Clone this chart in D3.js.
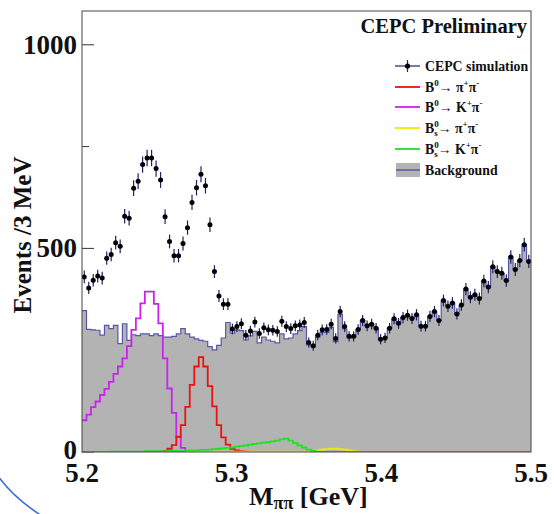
<!DOCTYPE html>
<html><head><meta charset="utf-8">
<script src="https://cdn.jsdelivr.net/npm/d3@7"></script>
<style>body{margin:0;background:#fff} svg{display:block}</style>
</head><body>
<svg id="c" width="554" height="514"></svg>
<script>
// ---- data (Events / 3 MeV, 100 bins from 5.2 to 5.5 GeV) ----
const massRange = [5.2, 5.5];
const nBins = 100;
const dataCounts = [
 430,403,422,432,427,476,485,514,505,579,
 574,648,665,706,722,722,696,668,578,517,
 482,482,512,551,613,649,682,654,558,443,
 383,363,363,302,308,315,287,297,319,291,
 305,300,299,296,321,308,303,310,312,318,
 269,261,287,300,301,314,279,345,308,284,
 284,301,323,310,314,304,277,280,304,327,
 316,330,336,328,337,309,309,333,345,323,
 372,358,366,339,361,400,380,386,377,420,
 405,455,443,439,421,479,448,470,509,468];
const background = [
 347,301,300,299,287,311,303,311,266,315,
 274,288,286,290,290,286,290,286,282,282,
 284,290,303,290,282,278,274,272,259,251,
 262,280,318,292,300,298,275,285,296,268,
 282,275,272,268,290,278,280,290,298,308,
 263,258,282,294,294,306,271,338,302,280,
 282,300,323,310,314,304,277,280,304,327,
 316,330,336,328,337,309,309,333,345,323,
 372,358,366,339,361,400,380,386,377,420,
 405,455,443,439,421,479,448,470,509,468];
const b0PiPi = [
 0,0,0,0,0,0,0,0,0,0, 0,0,0,0,0,0,0,1,3,8,
 17,37,66,111,165,210,233,210,162,112, 66,36,18,8,4,2,1,0,0,0,
 0,0,0,0,0,0,0,0,0,0, 0,0,0,0,0,0,0,0,0,0,
 0,0,0,0,0,0,0,0,0,0, 0,0,0,0,0,0,0,0,0,0,
 0,0,0,0,0,0,0,0,0,0, 0,0,0,0,0,0,0,0,0,0];
const b0KPi = [
 78,92,110,124,140,155,172,192,210,230, 260,300,328,365,394,394,364,316,230,156,
 96,38,10,3,1,0,0,0,0,0, 0,0,0,0,0,0,0,0,0,0,
 0,0,0,0,0,0,0,0,0,0, 0,0,0,0,0,0,0,0,0,0,
 0,0,0,0,0,0,0,0,0,0, 0,0,0,0,0,0,0,0,0,0,
 0,0,0,0,0,0,0,0,0,0, 0,0,0,0,0,0,0,0,0,0];
const bsPiPi = [
 0,0,0,0,0,0,0,0,0,0, 0,0,0,0,0,0,0,0,0,0,
 0,0,0,0,0,1,1,1,1,1, 1,1,1,1,1,1,1,1,1,1,
 1,1,1,1,1,1,1,1,1,1, 1,2,4,6,7,8,8,7,6,4,
 2,1,0,0,0,0,0,0,0,0, 0,0,0,0,0,0,0,0,0,0,
 0,0,0,0,0,0,0,0,0,0, 0,0,0,0,0,0,0,0,0,0];
const bsKPi = [
 0,0,0,0,0,0,1,1,1,1, 1,1,1,1,2,2,2,2,2,3,
 3,3,3,4,4,4,5,5,6,7, 8,9,10,11,13,15,16,18,20,21,
 23,24,26,28,31,33,28,22,16,11, 6,3,1,0,0,0,0,0,0,0,
 0,0,0,0,0,0,0,0,0,0, 0,0,0,0,0,0,0,0,0,0,
 0,0,0,0,0,0,0,0,0,0, 0,0,0,0,0,0,0,0,0,0];
const yMajorTicks = [0, 500, 1000];
const yMinorTicks = [250, 750];
const xTickLabels = [5.2, 5.3, 5.4, 5.5];
const yMax = 1083;

// ---- layout ----
const svg = d3.select('#c');
const L = 82, R = 531, T = 11, B = 452;
const x = d3.scaleLinear().domain(massRange).range([L, R]);
const y = d3.scaleLinear().domain([0, yMax]).range([B, T]);
const binW = (massRange[1] - massRange[0]) / nBins;
const edges = d3.range(nBins + 1).map(i => massRange[0] + i * binW);
const serif = '"Liberation Serif","Times New Roman",serif';

svg.append('defs').append('clipPath').attr('id', 'pa')
  .append('rect').attr('x', L).attr('y', T).attr('width', R - L).attr('height', B - T);

// ticks (drawn first so fill covers them like ROOT)
const ax = svg.append('g').attr('stroke', '#333').attr('stroke-width', 1);
yMajorTicks.forEach(v => ax.append('line').attr('x1', L).attr('x2', L + 12).attr('y1', y(v)).attr('y2', y(v)));
yMinorTicks.forEach(v => ax.append('line').attr('x1', L).attr('x2', L + 7).attr('y1', y(v)).attr('y2', y(v)));

function stepPath(vals) {
  let p = '';
  vals.forEach((v, i) => {
    const x0 = x(edges[i]), x1 = x(edges[i + 1]), yy = y(v);
    p += (i === 0 ? 'M' : 'L') + x0 + ',' + yy + 'L' + x1 + ',' + yy;
  });
  return p;
}

const g = svg.append('g').attr('clip-path', 'url(#pa)');
// background fill + outline
g.append('path').attr('d', stepPath(background) + `L${x(massRange[1])},${y(0)}L${x(massRange[0])},${y(0)}Z`)
  .attr('fill', '#b3b3b3').attr('stroke', 'none');
g.append('path').attr('d', stepPath(background)).attr('fill', 'none').attr('stroke', '#5656a8').attr('stroke-width', 1.2);

const sigs = [
  {vals: b0KPi, color: '#cc22ee'},
  {vals: b0PiPi, color: '#ee1111'},
  {vals: bsPiPi, color: '#f2e800'},
  {vals: bsKPi, color: '#22e022'}
];
sigs.forEach(s => g.append('path').attr('d', stepPath(s.vals)).attr('fill', 'none')
  .attr('stroke', s.color).attr('stroke-width', 1.8));

// data points with error bars
const centers = dataCounts.map((v, i) => ({xc: x((edges[i] + edges[i + 1]) / 2), v}));
g.selectAll('line.err').data(centers).enter().append('line')
  .attr('x1', d => d.xc).attr('x2', d => d.xc)
  .attr('y1', d => y(d.v - 0.75 * Math.sqrt(d.v))).attr('y2', d => y(d.v + 0.75 * Math.sqrt(d.v)))
  .attr('stroke', '#20206a').attr('stroke-width', 1.2);
g.selectAll('circle.pt').data(centers).enter().append('circle')
  .attr('cx', d => d.xc).attr('cy', d => y(d.v)).attr('r', 2.5).attr('fill', '#000');

// frame
svg.append('rect').attr('x', L).attr('y', T).attr('width', R - L).attr('height', B - T)
  .attr('fill', 'none').attr('stroke', '#444').attr('stroke-width', 1);

// axis labels
yMajorTicks.forEach(v => svg.append('text').attr('x', 77).attr('y', y(v) + (v === 0 ? 7 : 9))
  .attr('text-anchor', 'end').attr('font-family', serif).attr('font-weight', 'bold')
  .attr('font-size', 27).attr('fill', '#111').text(v));
xTickLabels.forEach(v => svg.append('text').attr('x', x(v)).attr('y', 482)
  .attr('text-anchor', 'middle').attr('font-family', serif).attr('font-weight', 'bold')
  .attr('font-size', 27).attr('fill', '#111').text(v.toFixed(1)));

svg.append('text').attr('transform', 'translate(31,235) rotate(-90)')
  .attr('text-anchor', 'middle').attr('font-family', serif).attr('font-weight', 'bold')
  .attr('font-size', 25).attr('fill', '#111').text('Events /3 MeV');

const xl = svg.append('text').attr('x', 249).attr('y', 505).attr('font-family', serif)
  .attr('font-weight', 'bold').attr('font-size', 26).attr('fill', '#111');
xl.append('tspan').text('M');
xl.append('tspan').attr('font-size', 18).attr('dy', 4).text('ππ');
xl.append('tspan').attr('dy', -4).text(' [GeV]');

svg.append('text').attr('x', 527).attr('y', 33).attr('text-anchor', 'end')
  .attr('font-family', serif).attr('font-weight', 'bold').attr('font-size', 20.5)
  .attr('fill', '#111').text('CEPC Preliminary');

// legend
const lg = svg.append('g').attr('font-family', serif).attr('font-weight', 'bold').attr('fill', '#111');
const lx0 = 395, lx1 = 420, tx = 425;
const rows = [66, 87, 107, 128, 149, 170];
lg.append('line').attr('x1', lx0).attr('x2', lx1).attr('y1', rows[0]).attr('y2', rows[0]).attr('stroke', '#20206a').attr('stroke-width', 1.2);
lg.append('line').attr('x1', 407.5).attr('x2', 407.5).attr('y1', rows[0] - 6).attr('y2', rows[0] + 6).attr('stroke', '#20206a').attr('stroke-width', 1.2);
lg.append('circle').attr('cx', 407.5).attr('cy', rows[0]).attr('r', 2.6).attr('fill', '#000');
[1, 2, 3, 4].forEach(k => lg.append('line').attr('x1', lx0).attr('x2', lx1).attr('y1', rows[k]).attr('y2', rows[k])
  .attr('stroke', [null, '#ee1111', '#cc22ee', '#f2e800', '#22e022'][k]).attr('stroke-width', 1.8));
lg.append('rect').attr('x', 396).attr('y', 163).attr('width', 24).attr('height', 14).attr('fill', '#b3b3b3');
lg.append('line').attr('x1', 396).attr('x2', 420).attr('y1', 170).attr('y2', 170).attr('stroke', '#5656a8').attr('stroke-width', 1.5);

const fs = 13.8;
function legendText(row, parts) {
  const t = lg.append('text').attr('x', tx).attr('y', row + 5).attr('font-size', fs);
  parts.forEach(p => {
    const s = t.append('tspan').text(p.t);
    if (p.sup) s.attr('font-size', 9).attr('y', row - 1);
    else if (p.sub) s.attr('font-size', 9).attr('y', row + 8).attr('dx', p.dx || 0);
    else s.attr('y', row + 5);
  });
}
legendText(rows[0], [{t: 'CEPC simulation'}]);
legendText(rows[1], [{t: 'B'}, {t: '0', sup: 1}, {t: '\u2192  \u03c0'}, {t: '+', sup: 1}, {t: '\u03c0'}, {t: '-', sup: 1}]);
legendText(rows[2], [{t: 'B'}, {t: '0', sup: 1}, {t: '\u2192  K'}, {t: '+', sup: 1}, {t: '\u03c0'}, {t: '-', sup: 1}]);
legendText(rows[3], [{t: 'B'}, {t: '0', sup: 1}, {t: 's', sub: 1, dx: -4.5}, {t: '\u2192  \u03c0'}, {t: '+', sup: 1}, {t: '\u03c0'}, {t: '-', sup: 1}]);
legendText(rows[4], [{t: 'B'}, {t: '0', sup: 1}, {t: 's', sub: 1, dx: -4.5}, {t: '\u2192 K'}, {t: '+', sup: 1}, {t: '\u03c0'}, {t: '-', sup: 1}]);
legendText(rows[5], [{t: 'Background'}]);

// decorative arc at bottom-left
svg.append('path').attr('d', 'M-2,476 Q14,498 42,516').attr('fill', 'none')
  .attr('stroke', '#3a6ad0').attr('stroke-width', 1.5);
</script>
</body></html>
